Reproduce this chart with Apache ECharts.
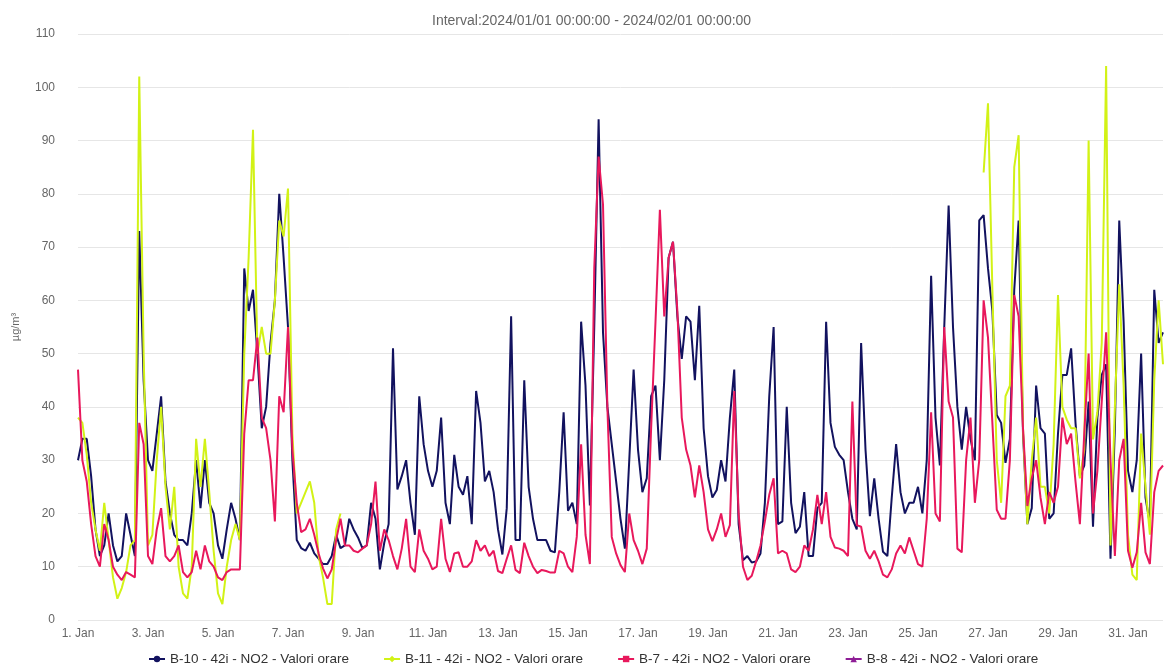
<!DOCTYPE html>
<html>
<head>
<meta charset="utf-8">
<script src="https://cdn.jsdelivr.net/npm/echarts@6/dist/echarts.min.js"></script>
<style>
html,body{margin:0;padding:0;background:#fff;}
#chart{width:1166px;height:668px;}
</style>
</head>
<body>
<div id="chart"></div>
<script>
// Sampling: one value every 3 hours, starting 2024-01-01 00:00
const STEP_HOURS = 3;
const titleText = 'Interval:2024/01/01 00:00:00 - 2024/02/01 00:00:00';
const unitLabel = 'µg/m³';
const seriesNames = [
  'B-10 - 42i - NO2 - Valori orare',
  'B-11 - 42i - NO2 - Valori orare',
  'B-7 - 42i - NO2 - Valori orare',
  'B-8 - 42i - NO2 - Valori orare'
];
const N = null;

const b10 = [
  30, 34, 34, 27, 17, 12, 14, 20,
  14, 11, 12, 20, 16, 12, 73, 45,
  30, 28, 35, 42, 26, 20, 16, 15,
  15, 14, 20, 30, 21, 30, 22, 20,
  14, 11.5, 17, 22, 19, 15, 66, 58,
  62, 50, 36, 40, 52, 60, 80, 68,
  55, 30, 15, 13.5, 13, 14.5, 12.5, 11.5,
  10.5, 10.5, 12, 16, 13.5, 14, 19, 17,
  15.5, 13.5, 14, 22, 19, 9.5, 14.5, 18,
  51, 24.5, 27, 30, 22, 16, 42, 33,
  28, 25, 28, 38, 22, 18, 31, 25,
  23.5, 27, 18, 43, 37, 26, 28, 24,
  17, 12.3, 21, 57, 15, 15, 45, 25,
  19, 15, 15, 15, 13, 12.7, 24, 39,
  20.5, 22, 18, 56, 44, 21.5, 55, 94,
  54, 40, 33, 26, 19, 13.4, 30, 47,
  32, 24, 26.6, 42, 44, 30, 45, 68,
  71, 57, 49, 57, 56, 45, 59, 36,
  27, 23, 24.4, 30, 26, 38, 47, 18,
  11.2, 12, 10.8, 11, 12.5, 22, 42, 55,
  18, 18.5, 40, 22, 16.3, 17.5, 24, 12,
  12, 21, 22, 56, 37, 32.5, 31, 30,
  24, 19, 17, 52, 32, 19.5, 26.6, 19,
  12.8, 12, 23, 33, 24, 20, 22, 22,
  25, 20, 30, 64.6, 38, 29, 55, 77.8,
  55, 40, 32, 40, 34, 30, 75, 76,
  66, 58, 38.5, 37, 29.5, 34, 62, 75,
  35, 18, 21, 44, 36, 35, 19, 20,
  35, 46, 46, 51, 37, 27, 29, 41,
  17.5, 38, 46, 48, 11.5, 36, 75, 56,
  28, 24, 30, 50, 23, 18, 62, 52,
  54
];

const b11 = [
  38, 37, 31, 22, 17, 13, 22, 15,
  8, 4, 6, 9, 14, 15, 102, 50,
  14, 16, 30, 40, 25, 17, 25, 10,
  5, 4, 10, 34, 25, 34, 24, 13,
  5, 3, 10, 15, 18, 15, 50, 68,
  92, 50, 55, 50, 50, 60, 75, 72,
  81, 35, 20, 22, 24, 26, 22, 12,
  8, 3, 3, 17, 20, N, N, N,
  N, N, N, N, N, N, N, N,
  N, N, N, N, N, N, N, N,
  N, N, N, N, N, N, N, N,
  N, N, N, N, N, N, N, N,
  N, N, N, N, N, N, N, N,
  N, N, N, N, N, N, N, N,
  N, N, N, N, N, N, N, N,
  N, N, N, N, N, N, N, N,
  N, N, N, N, N, N, N, N,
  N, N, N, N, N, N, N, N,
  N, N, N, N, N, N, N, N,
  N, N, N, N, N, N, N, N,
  N, N, N, N, N, N, N, N,
  N, N, N, N, N, N, N, N,
  N, N, N, N, N, N, N, N,
  N, N, N, N, N, N, N, N,
  N, N, N, N, N, N, N, N,
  N, N, N, N, N, N, N, 84,
  97, 62, 30, 22, 42, 44, 85, 91,
  36, 18, 30, 38, 25, 25, 20, 33,
  61, 40, 37.6, 36, 36, 26.6, 32, 90,
  33.9, 39, 52, 104, 14, 40, 63, 44,
  16, 8.5, 7.5, 35, 25, 16, 45, 60,
  48
];

const b7 = [
  47, 30, 26, 18, 12, 10, 18, 15,
  10, 8.5, 7.5, 9, 8.5, 8, 37, 33,
  12, 10.5, 17, 21, 12, 11, 12, 14,
  9, 8, 9, 13, 9.5, 14, 11, 10,
  8, 7.5, 9, 9.5, 9.5, 9.5, 35, 45,
  45, 53, 38, 36, 30, 18.5, 42, 39,
  55, 32, 22, 16.5, 17, 19, 16, 12.5,
  9.7, 7.8, 9.5, 15, 19, 14, 14, 13,
  12.7, 13.4, 14, 18, 26, 13, 17, 15,
  12, 9.5, 13.4, 19, 10, 9, 17, 13,
  11.5, 9.5, 10, 19, 11.5, 9, 12.5, 12.7,
  10, 10, 11, 15, 13, 14, 12, 13,
  9.2, 8.8, 11.5, 14, 9.4, 8.8, 14.5, 12,
  10, 8.8, 9.4, 9.2, 8.9, 8.9, 13, 12.5,
  10, 9, 15.6, 33, 16, 10.5, 66, 87,
  78, 40, 15.6, 12.5, 10.3, 9, 20, 15,
  13, 10.5, 13.4, 36, 56, 77, 57, 68,
  71, 58, 38, 32, 29, 23, 29, 24,
  17, 14.8, 17, 20, 15.6, 17.8, 43, 20,
  10, 7.5, 8.3, 11, 14, 18.5, 23.5, 26.6,
  12.5, 13, 12.5, 9.5, 9, 10, 14, 13,
  17, 23.5, 18, 24, 15.6, 13.6, 13.4, 13,
  12, 41, 17.8, 17.5, 13, 11.5, 13, 11,
  8.5, 8, 9.5, 12.5, 14, 12.5, 15.5, 13,
  10.5, 10, 19, 39, 20, 18.5, 55, 41,
  38, 13.4, 12.7, 30, 38, 22, 30, 60,
  53, 37, 20.7, 19, 19, 30, 61, 57,
  36, 21.4, 26.6, 30, 23, 18, 24, 22,
  25, 38, 33, 35, 26, 18, 35, 50,
  20, 28, 41, 54, 30, 12, 30, 34,
  13, 9.8, 12.7, 22, 12.7, 10.5, 24, 28,
  29
];

const b8 = []; // no data in this interval

const colors = ['#12125f', '#d2f216', '#e8185c', '#8e1d96'];
const symbols = ['circle', 'diamond', 'rect', 'triangle'];

function toPoints(arr) {
  return arr.map((v, i) => [i * STEP_HOURS, v]);
}

const chart = echarts.init(document.getElementById('chart'), null, {renderer: 'canvas'});
const dataSets = [b10, b11, b7, b8];

chart.setOption({
  animation: false,
  backgroundColor: '#ffffff',
  title: {
    text: titleText,
    left: 427,
    top: 9,
    textStyle: {fontFamily: 'Liberation Sans, Arial, sans-serif', fontSize: 14, fontWeight: 'normal', color: '#666666'}
  },
  legend: {
    bottom: -3,
    left: 143,
    itemWidth: 16,
    itemHeight: 8,
    itemGap: 34,
    textStyle: {fontFamily: 'Liberation Sans, Arial, sans-serif', fontSize: 13.5, color: '#333333'},
    data: seriesNames
  },
  grid: {left: 78, right: 3, top: 34, bottom: 48, containLabel: false},
  xAxis: {
    type: 'value',
    min: 0,
    max: 744,
    interval: 48,
    axisLine: {show: false},
    axisTick: {show: false},
    splitLine: {show: false},
    axisLabel: {
      margin: 8,
      fontFamily: 'Liberation Sans, Arial, sans-serif',
      fontSize: 12,
      color: '#666666',
      showMaxLabel: false,
      formatter: function (v) {
        if (v % 48 !== 0 || v >= 744) return '';
        return (1 + v / 24) + '. Jan';
      }
    }
  },
  yAxis: {
    type: 'value',
    min: 0,
    max: 110,
    interval: 10,
    name: unitLabel,
    nameLocation: 'middle',
    nameRotate: 90,
    nameGap: 57,
    nameTextStyle: {fontFamily: 'Liberation Sans, Arial, sans-serif', fontSize: 11, color: '#666666'},
    axisLine: {show: false},
    axisTick: {show: false},
    axisLabel: {margin: 23, fontFamily: 'Liberation Sans, Arial, sans-serif', fontSize: 12, color: '#666666'},
    splitLine: {lineStyle: {color: '#e6e6e6', width: 1}}
  },
  series: dataSets.map((arr, k) => ({
    name: seriesNames[k],
    type: 'line',
    data: toPoints(arr),
    symbol: symbols[k],
    symbolSize: 8,
    showSymbol: false,
    connectNulls: false,
    color: colors[k],
    lineStyle: {width: 2, color: colors[k]},
    itemStyle: {color: colors[k]}
  }))
});
</script>
</body>
</html>
